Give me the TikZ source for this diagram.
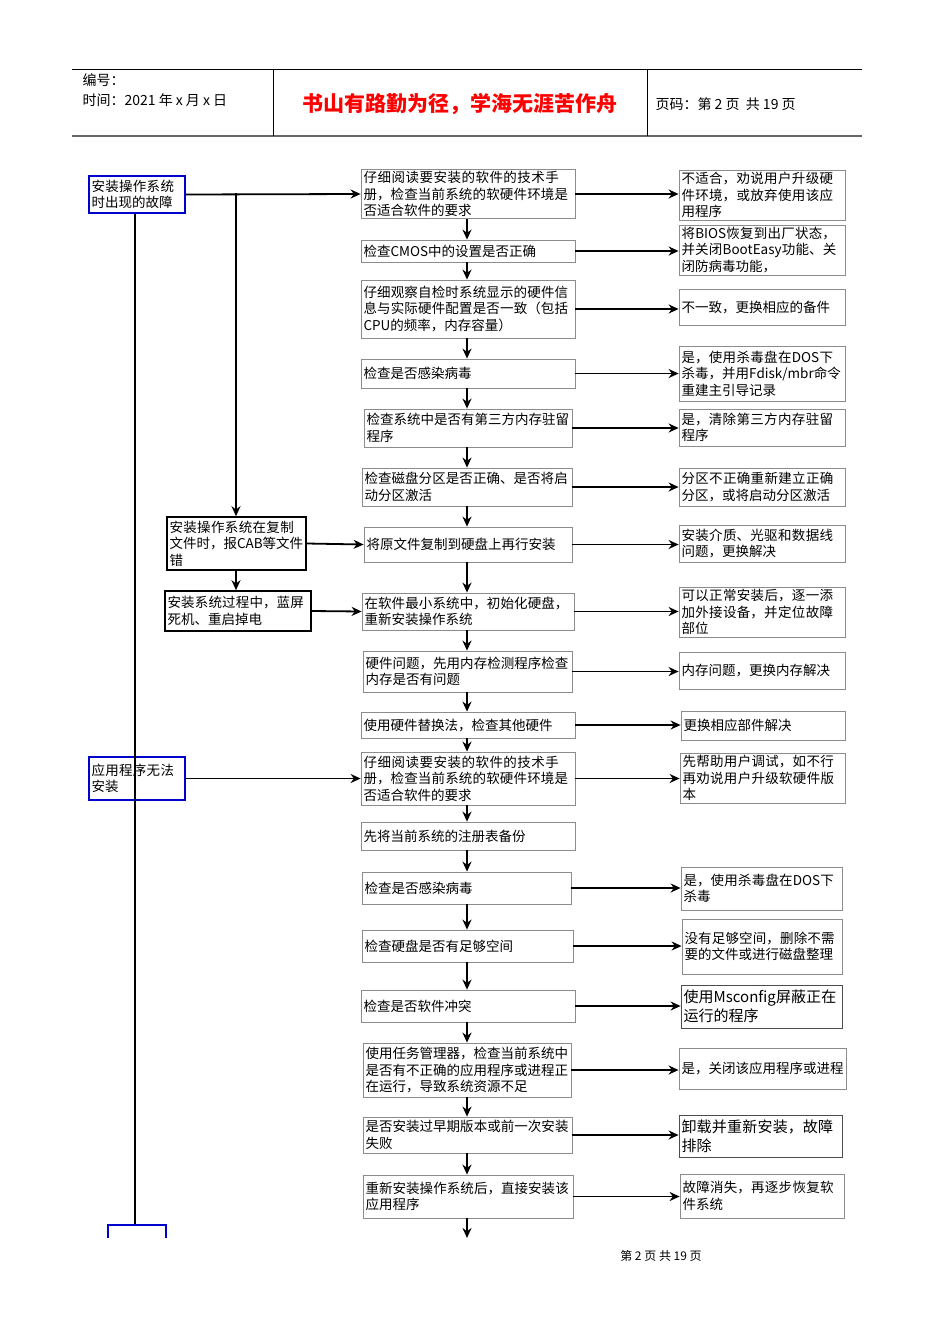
\documentclass[tikz,border=0pt]{standalone}
\usepackage{fontspec}
\setmainfont{Noto Sans CJK SC}
\XeTeXlinebreaklocale "zh"
\XeTeXlinebreakskip=0pt plus 1pt
\usetikzlibrary{arrows.meta}
\tikzset{
 box/.style={draw=black!45,line width=0.8pt,inner sep=2pt,align=left,font=\fontsize{13.5}{16.5}\selectfont},
 blue/.style={box,draw=blue!80!black,line width=1.6pt},
 bold/.style={box,draw=black,line width=1.6pt},
 big/.style={font=\fontsize{15}{19}\selectfont},
 arr/.style={line width=1.8pt,-{Stealth[length=10pt,width=9pt]}},
 ln/.style={line width=1.8pt}
}
\newcommand\bx[7]{%
 \pgfmathsetmacro\bw{#5-#3}\pgfmathsetmacro\bh{#6-#4}%
 \pgfmathsetmacro\tw{#5-#3-5}%
 \pgfmathsetmacro\cx{(#3+#5)/2}\pgfmathsetmacro\cy{(#4+#6)/2}%
 \node[#1,minimum width=\bw pt,minimum height=\bh pt,text width=\tw pt] (#2) at (\cx,\cy) {#7};}
\begin{document}
\begin{tikzpicture}[x=1pt,y=-1pt]
\useasboundingbox (0,0) rectangle (950,1344);
% header
\draw[line width=0.8pt] (72,69) -- (862,69);
\draw[line width=1.2pt,black!60] (72,136) -- (862,136);
\draw[line width=0.8pt] (273,69) -- (273,136) (647,69) -- (647,136);
\node[anchor=west,font=\fontsize{14}{16}\selectfont] (h1) at (79,80) {编号：};
\node[anchor=west,font=\fontsize{14}{16}\selectfont] (h2) at (79,100) {时间：2021 年 x 月 x 日};
\node[font=\fontsize{21}{24}\selectfont\bfseries,text=red] (h3) at (460,104) {书山有路勤为径，学海无涯苦作舟};
\node[anchor=west,font=\fontsize{14}{16}\selectfont] (h4) at (652,104) {页码：第 2 页\ \ 共 19 页};
\node[font=\fontsize{12}{14}\selectfont] (ft) at (661,1256) {第 2 页 共 19 页};
% left
\bx{blue}{A1}{89}{176}{185}{213}{安装操作系统时出现的故障}
\bx{blue}{A2}{89}{757}{185}{800}{应用程序无法安装}
\bx{bold}{B1}{167}{517}{306}{570}{安装操作系统在复制文件时，报CAB等文件错}
\bx{bold}{B2}{165}{591}{311}{631}{安装系统过程中，蓝屏死机、重启掉电}
% middle
\bx{box}{M1}{361}{170}{575}{218}{仔细阅读要安装的软件的技术手册，检查当前系统的软硬件环境是否适合软件的要求}
\bx{box}{M2}{361}{240}{575}{262}{检查CMOS中的设置是否正确}
\bx{box}{M3}{361}{280}{575}{338}{仔细观察自检时系统显示的硬件信息与实际硬件配置是否一致（包括CPU的频率，内存容量）}
\bx{box}{M4}{361}{359}{575}{388}{检查是否感染病毒}
\bx{box}{M5}{364}{409}{572}{447}{检查系统中是否有第三方内存驻留程序}
\bx{box}{M6}{362}{468}{572}{506}{检查磁盘分区是否正确、是否将启动分区激活}
\bx{box}{M7}{364}{527}{572}{562}{将原文件复制到硬盘上再行安装}
\bx{box}{M8}{362}{593}{574}{630}{在软件最小系统中，初始化硬盘，重新安装操作系统}
\bx{box}{M9}{363}{651}{572}{692}{硬件问题，先用内存检测程序检查内存是否有问题}
\bx{box}{M10}{361}{712}{575}{738}{使用硬件替换法，检查其他硬件}
\bx{box}{M11}{361}{752}{575}{805}{仔细阅读要安装的软件的技术手册，检查当前系统的软硬件环境是否适合软件的要求}
\bx{box}{M12}{361}{822}{575}{850}{先将当前系统的注册表备份}
\bx{box}{M13}{362}{872}{571}{904}{检查是否感染病毒}
\bx{box}{M14}{362}{930}{573}{962}{检查硬盘是否有足够空间}
\bx{box}{M15}{361}{990}{575}{1022}{检查是否软件冲突}
\bx{box}{M16}{363}{1043}{571}{1097}{使用任务管理器，检查当前系统中是否有不正确的应用程序或进程正在运行，导致系统资源不足}
\bx{box}{M17}{363}{1117}{572}{1153}{是否安装过早期版本或前一次安装失败}
\bx{box}{M18}{363}{1175}{573}{1218}{重新安装操作系统后，直接安装该应用程序}
% right
\bx{box}{R1}{679}{170}{845}{220}{不适合，劝说用户升级硬件环境，或放弃使用该应用程序}
\bx{box}{R2}{679}{226}{845}{274}{将BIOS恢复到出厂状态，并关闭BootEasy功能、关闭防病毒功能，}
\bx{box}{R3}{679}{289}{845}{325}{不一致，更换相应的备件}
\bx{box}{R4}{679}{346}{845}{401}{是，使用杀毒盘在DOS下杀毒，并用Fdisk/mbr命令重建主引导记录}
\bx{box}{R5}{679}{409}{845}{446}{是，清除第三方内存驻留程序}
\bx{box}{R6}{679}{468}{845}{506}{分区不正确重新建立正确分区，或将启动分区激活}
\bx{box}{R7}{679}{525}{845}{562}{安装介质、光驱和数据线问题，更换解决}
\bx{box}{R8}{679}{587}{845}{637}{可以正常安装后，逐一添加外接设备，并定位故障部位}
\bx{box}{R9}{679}{652}{845}{689}{内存问题，更换内存解决}
\bx{box}{R10}{681}{711}{845}{740}{更换相应部件解决}
\bx{box}{R11}{680}{753}{845}{803}{先帮助用户调试，如不行再劝说用户升级软硬件版本}
\bx{box}{R12}{681}{867}{842}{910}{是，使用杀毒盘在DOS下杀毒}
\bx{box}{R13}{682}{919}{842}{974}{没有足够空间，删除不需要的文件或进行磁盘整理}
\bx{box,big,draw=black!70}{R14}{681}{985}{842}{1028}{使用Msconfig屏蔽正在运行的程序}
\bx{box}{R15}{679}{1048}{846}{1089}{是，关闭该应用程序或进程}
\bx{box,big,draw=black!70}{R16}{679}{1115}{842}{1157}{卸载并重新安装，故障排除}
\bx{box}{R17}{680}{1174}{844}{1218}{故障消失，再逐步恢复软件系统}
% left trunk
\draw[ln] (A1.south -| 135,0) -- (135,1225);
\draw[blue!80!black,line width=1.6pt] (108,1238) -- (108,1225) -- (166,1225) -- (166,1238);
\draw[arr] (A1.east) -- (M1.west);
\draw[arr] (236,193) -- (B1.north -| 236,0);
\draw[arr] (B1.south -| 236,0) -- (B2.north -| 236,0);
\draw[arr] (B1.east) -- (M7.west);
\draw[arr] (B2.east) -- (M8.west);
\draw[arr] (A2.east) -- (M11.west);
% vertical chain
\foreach \a/\b in {M1/M2,M2/M3,M3/M4,M4/M5,M5/M6,M6/M7,M7/M8,M8/M9,M9/M10,M10/M11,M11/M12,M12/M13,M13/M14,M14/M15,M15/M16,M16/M17,M17/M18}
 \draw[arr] (\a.south -| 467,0) -- (\b.north -| 467,0);
\coordinate (end) at (467,1238);
\draw[arr] (M18.south -| 467,0) -- (end);
% horizontal
\foreach \i in {1,...,11} \draw[arr] (M\i.east) -- (M\i.east -| R\i.west);
\foreach \m/\r in {13/12,14/13,15/14,16/15,17/16,18/17} \draw[arr] (M\m.east) -- (M\m.east -| R\r.west);
\end{tikzpicture}
\end{document}
